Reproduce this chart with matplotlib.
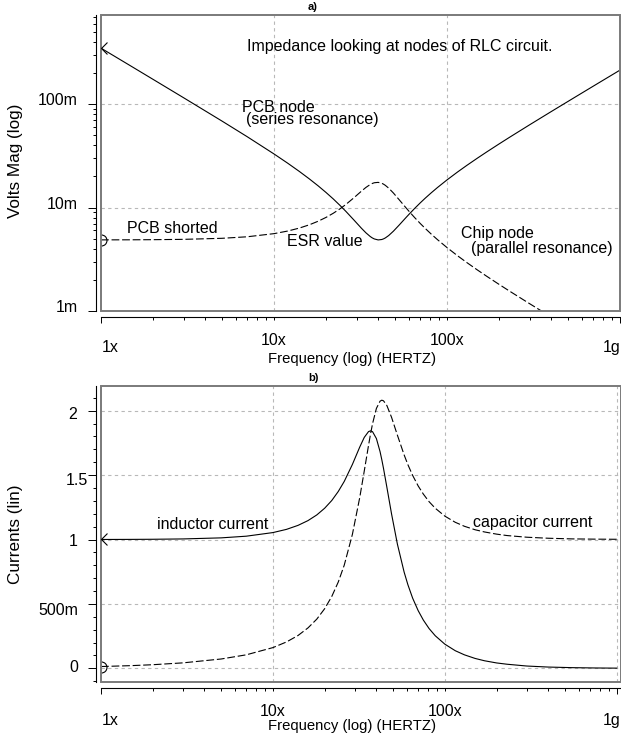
import matplotlib
matplotlib.use("Agg")
import matplotlib.pyplot as plt
import matplotlib.transforms as mtransforms
from matplotlib.patches import Rectangle
from matplotlib.path import Path

plt.rcParams['font.family'] = ['Liberation Sans', 'DejaVu Sans']

# values (frequency in "x" units, 1 .. 1g)
freq = [1, 1.5, 2, 3, 5, 7, 10, 12, 14, 16, 18, 20, 22, 24, 26, 29, 32, 34, 36, 37,
        38, 40, 42, 43, 44, 46, 49, 53, 58, 61, 65, 70, 75, 81, 88, 100, 115, 130,
        150, 170, 200, 230, 300, 400, 550, 750, 1000]

# a) node impedance, in milli
pcb_node_m = [346.8, 231.1, 173.1, 115.1, 68.51, 48.33, 32.93, 26.81, 22.34, 18.91,
              16.19, 13.96, 12.11, 10.53, 9.197, 7.559, 6.312, 5.693, 5.245, 5.085,
              4.970, 4.862, 4.908, 4.981, 5.082, 5.358, 5.906, 6.790, 8.013, 8.773,
              9.797, 11.08, 12.35, 13.85, 15.58, 18.48, 22.02, 25.49, 30.03, 34.51,
              41.15, 47.73, 62.93, 84.47, 116.6, 159.4, 212.7]
chip_node_m = [4.867, 4.876, 4.889, 4.925, 5.040, 5.215, 5.591, 5.924, 6.326, 6.806,
               7.371, 8.031, 8.797, 9.680, 10.69, 12.44, 14.38, 15.64, 16.69, 17.08,
               17.35, 17.50, 17.14, 16.80, 16.38, 15.40, 13.81, 11.85, 9.913, 8.996,
               7.995, 7.018, 6.259, 5.544, 4.901, 4.102, 3.421, 2.944, 2.489, 2.161,
               1.808, 1.556, 1.178, 0.876, 0.634, 0.464, 0.348]

# b) branch currents
i_inductor = [1.0005, 1.0012, 1.0021, 1.0047, 1.013, 1.026, 1.054, 1.079, 1.110, 1.147,
              1.191, 1.243, 1.303, 1.373, 1.451, 1.583, 1.718, 1.793, 1.838, 1.844,
              1.837, 1.784, 1.683, 1.620, 1.552, 1.408, 1.199, 0.964, 0.747, 0.649,
              0.545, 0.448, 0.375, 0.309, 0.253, 0.188, 0.137, 0.105, 0.077, 0.059,
              0.042, 0.032, 0.018, 0.010, 0.0054, 0.0029, 0.0016]
i_capacitor = [0.0140, 0.0211, 0.0282, 0.0426, 0.0726, 0.105, 0.161, 0.205, 0.255, 0.314,
               0.382, 0.463, 0.558, 0.670, 0.801, 1.040, 1.326, 1.532, 1.731, 1.821,
               1.900, 2.018, 2.074, 2.082, 2.077, 2.041, 1.949, 1.810, 1.657, 1.581,
               1.498, 1.416, 1.353, 1.294, 1.243, 1.182, 1.134, 1.103, 1.076, 1.059,
               1.042, 1.031, 1.018, 1.010, 1.005, 1.003, 1.002]

x_labels = ['1x', '10x', '100x', '1g']
a_yticks = [1e-3, 1e-2, 1e-1]
a_ylabels = ['1m', '10m', '100m']
b_yticks = [0, 0.5, 1, 1.5, 2]
b_ylabels = ['0', '500m', '1', '1.5', '2']

W, H = 621, 740
fig = plt.figure(figsize=(W / 100, H / 100), dpi=100)


def fx(x):
    return x / W


def fy(y):
    return 1 - y / H


ax1 = fig.add_axes([fx(101), fy(311), 519 / W, 296 / H])
ax2 = fig.add_axes([fx(101), fy(682), 519.7 / W, 296 / H])

arrow = Path([(1, 1), (0, 0), (1, -1)], [Path.MOVETO, Path.LINETO, Path.LINETO])
grid_kw = dict(color='#b8b8b8', lw=0.8, ls=(0, (3, 3)), zorder=1)
dash = (0, (7, 2.5))

minor_x = [k * 10 ** n for n in range(3) for k in range(2, 10)] + [10, 100]


def frame(ax):
    ax.spines['top'].set_visible(False)
    ax.spines['right'].set_visible(False)
    ax.spines['left'].set_position(('outward', 3.6))
    ax.spines['bottom'].set_position(('outward', 4.3))
    ax.spines['left'].set_linewidth(0.8)
    ax.spines['bottom'].set_linewidth(0.8)
    ax.add_patch(Rectangle((0, 0), 1, 1, transform=ax.transAxes, fill=False,
                           ec='#7a7a7a', lw=1.4, clip_on=False, zorder=6))
    ax.set_xscale('log')
    ax.xaxis.set_major_locator(plt.FixedLocator([1, 1000]))
    ax.xaxis.set_minor_locator(plt.FixedLocator(minor_x))
    ax.tick_params(which='both', direction='out', width=0.7,
                   labelbottom=False, labelleft=False)
    ax.tick_params(axis='x', which='major', length=4.3)
    ax.tick_params(axis='x', which='minor', length=2.0)
    ax.tick_params(axis='y', which='major', length=5.8)
    ax.tick_params(axis='y', which='minor', length=2.2)


# ---- a) impedance
frame(ax1)
ax1.set_yscale('log')
ax1.set_xlim(1, 1000)
ax1.set_ylim(1e-3, 0.725)
ax1.yaxis.set_major_locator(plt.FixedLocator(a_yticks))
ax1.yaxis.set_minor_locator(plt.FixedLocator(
    [k * 10.0 ** n for n in range(-3, 0) for k in range(2, 10)]))
for v in [10, 100]:
    ax1.axvline(v, **grid_kw)
for h in [1e-2, 1e-1]:
    ax1.axhline(h, **grid_kw)

pcb = [v / 1000 for v in pcb_node_m]
chip = [v / 1000 for v in chip_node_m]
ax1.plot(freq, pcb, color='black', lw=0.8, zorder=3)
ax1.plot(freq, chip, color='black', lw=0.8, ls=dash, zorder=3)
ax1.plot(freq[0], pcb[0], marker=arrow, ms=8.6, mfc='none', mec='black', mew=0.8,
         clip_on=False, zorder=7)
ax1.plot(freq[0], chip[0], marker='o', ms=7.9, mfc='none', mec='black', mew=0.8,
         zorder=4)

t1 = mtransforms.blended_transform_factory(fig.transFigure, ax1.transData)
for v, s in zip(a_yticks, a_ylabels):
    ax1.text(fx(78), v, s, transform=mtransforms.offset_copy(t1, fig=fig, y=-1, units='dots'),
             ha='right', va='baseline', fontsize=11.5)

# ---- b) currents
frame(ax2)
ax2.set_xlim(1, 1055)
ax2.set_ylim(-0.106, 2.192)
ax2.yaxis.set_major_locator(plt.FixedLocator(b_yticks))
ax2.yaxis.set_minor_locator(plt.FixedLocator([i / 10 for i in range(-1, 22)]))
for v in [10, 100, 1000]:
    ax2.axvline(v, **grid_kw)
for h in b_yticks:
    ax2.axhline(h, **grid_kw)

ax2.plot(freq, i_inductor, color='black', lw=0.8, zorder=3)
ax2.plot(freq, i_capacitor, color='black', lw=0.8, ls=dash, zorder=3)
ax2.plot(freq[0], i_inductor[0], marker=arrow, ms=8.6, mfc='none', mec='black', mew=0.8,
         clip_on=False, zorder=7)
ax2.plot(freq[0], i_capacitor[0], marker='o', ms=7.9, mfc='none', mec='black', mew=0.8,
         zorder=4)

t2 = mtransforms.blended_transform_factory(fig.transFigure, ax2.transData)
b_right = [78, 78, 78, 88, 77]
b_drop = [3.4, 10.7, 6.5, 9.7, 8.6]
for v, s, r, d in zip(b_yticks, b_ylabels, b_right, b_drop):
    ax2.text(fx(r), v, s, transform=mtransforms.offset_copy(t2, fig=fig, y=-d, units='dots'),
             ha='right', va='baseline', fontsize=11.5)

# x tick labels and axis titles
for lo, hi, x10, x100, xl in [(352, 345, 274, 447, 362.7), (725, 716.5, 273, 445, 730)]:
    fig.text(fx(102), fy(lo), x_labels[0], ha='left', va='baseline', fontsize=11.5)
    fig.text(fx(x10), fy(hi), x_labels[1], ha='center', va='baseline', fontsize=11.5)
    fig.text(fx(x100), fy(hi), x_labels[2], ha='center', va='baseline', fontsize=11.5)
    fig.text(fx(621), fy(lo), x_labels[3], ha='right', va='baseline', fontsize=11.5)
    fig.text(fx(352), fy(xl), 'Frequency (log) (HERTZ)',
             ha='center', va='baseline', fontsize=10.7)

fig.text(fx(15.5), fy(161), 'Volts Mag (log)', rotation=90, ha='center', va='center',
         fontsize=12.3)
fig.text(fx(15.5), fy(534), 'Currents (lin)', rotation=90, ha='center', va='center',
         fontsize=12.3)
fig.text(fx(308), fy(10.5), 'a)', fontweight='bold', fontsize=8, va='baseline')
fig.text(fx(308), fy(381), 'b)', fontweight='bold', fontsize=8, va='baseline')

notes = [
    (247, 51, 'Impedance looking at nodes of RLC circuit.'),
    (242, 112, 'PCB node'),
    (246, 124, '(series resonance)'),
    (127, 233, 'PCB shorted'),
    (287, 246, 'ESR value'),
    (461, 238, 'Chip node'),
    (471, 253, '(parallel resonance)'),
    (157, 529, 'inductor current'),
    (473, 527, 'capacitor current'),
]
for x, y, s in notes:
    fig.text(fx(x), fy(y), s, ha='left', va='baseline', fontsize=11.5)

fig.savefig('out.png', dpi=100)
